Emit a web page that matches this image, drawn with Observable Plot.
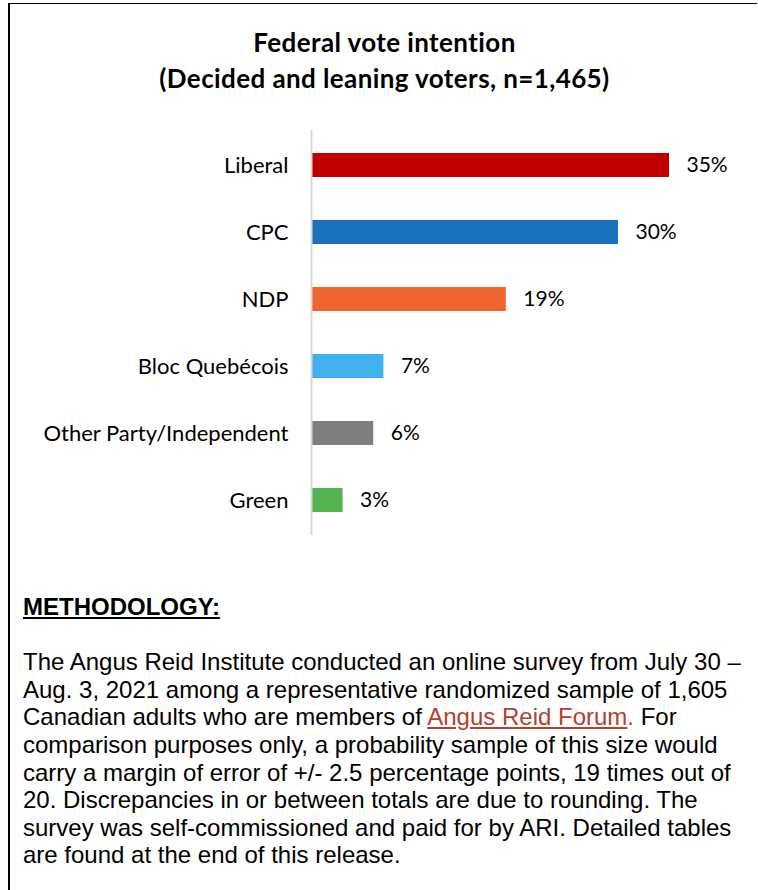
<!DOCTYPE html>
<html>
<head>
<meta charset="utf-8">
<script src="https://cdn.jsdelivr.net/npm/d3@7"></script>
<script src="https://cdn.jsdelivr.net/npm/@observablehq/plot@0.6"></script>
<style>
  html, body { margin: 0; padding: 0; background: #fff; }
  #page { position: relative; width: 758px; height: 890px; overflow: hidden; background: #fff; }
  #frameTop { position: absolute; left: 8px; top: 3px; width: 749px; height: 0; border-top: 1.5px solid #000; }
  #frameLeft { position: absolute; left: 8px; top: 3px; width: 0; height: 887px; border-left: 2px solid #000; }
  #title { position: absolute; left: 9px; width: 751px; top: 24px; text-align: center;
           font-family: Lato, sans-serif; font-weight: bold; font-size: 26px; line-height: 36px;
           letter-spacing: 0.4px; color: #000; }
  #chart { position: absolute; left: 0; top: 110px; }
  #method { position: absolute; left: 23px; top: 593px; width: 730px;
            font-family: "Liberation Sans", Arial, sans-serif; font-size: 24px; line-height: 27.6px; color: #000; }
  #method .head { font-weight: bold; text-decoration: underline; }
  #method a { color: #B3412E; text-decoration: underline; }
  #method .dot { color: #B3412E; }
</style>
</head>
<body>
<div id="page">
  <div id="frameTop"></div>
  <div id="frameLeft"></div>
  <div id="title">Federal vote intention<br>(Decided and leaning voters, n=1,465)</div>
  <div id="chart"></div>
  <div id="method">
    <div class="head">METHODOLOGY:</div>
    <div>&nbsp;</div>
    <div>The Angus Reid Institute conducted an online survey from July 30 –<br>
    Aug. 3, 2021 among a representative randomized sample of 1,605<br>
    Canadian adults who are members of <a>Angus Reid Forum</a><span class="dot">.</span> For<br>
    comparison purposes only, a probability sample of this size would<br>
    carry a margin of error of +/- 2.5 percentage points, 19 times out of<br>
    20. Discrepancies in or between totals are due to rounding. The<br>
    survey was self-commissioned and paid for by ARI. Detailed tables<br>
    are found at the end of this release.</div>
  </div>
</div>
<script>
const parties = ["Liberal", "CPC", "NDP", "Bloc Quebécois", "Other Party/Independent", "Green"];
const shares = [35, 30, 19, 7, 6, 3];
const barColors = ["#C00000", "#1C71BE", "#EF6430", "#3FB1EF", "#7F7F7F", "#55B250"];

const data = parties.map((p, i) => ({party: p, value: shares[i], color: barColors[i]}));

const chart = Plot.plot({
  width: 758,
  height: 450,
  marginTop: 20,
  marginBottom: 25,
  marginLeft: 312,
  marginRight: 38,
  style: {fontFamily: "Lato, sans-serif", fontSize: "20px", color: "#000", background: "transparent"},
  x: {domain: [0, 40], axis: null},
  y: {domain: parties, paddingInner: 0.645, paddingOuter: 0.3225, label: null},
  marks: [
    Plot.barX(data, {x1: 0, x2: "value", y: "party", fill: "color"}),
    Plot.ruleX([0], {stroke: "#d9d9d9", strokeWidth: 2, dx: -1}),
    Plot.axisY({tickSize: 0, tickPadding: 24, fontSize: 22, label: null, fill: "#000"}),
    Plot.text(data, {x: "value", y: "party", text: d => d.value + "%", dx: 17, textAnchor: "start", fontSize: 21, fill: "#000"})
  ]
});
document.getElementById("chart").appendChild(chart);
</script>
</body>
</html>
